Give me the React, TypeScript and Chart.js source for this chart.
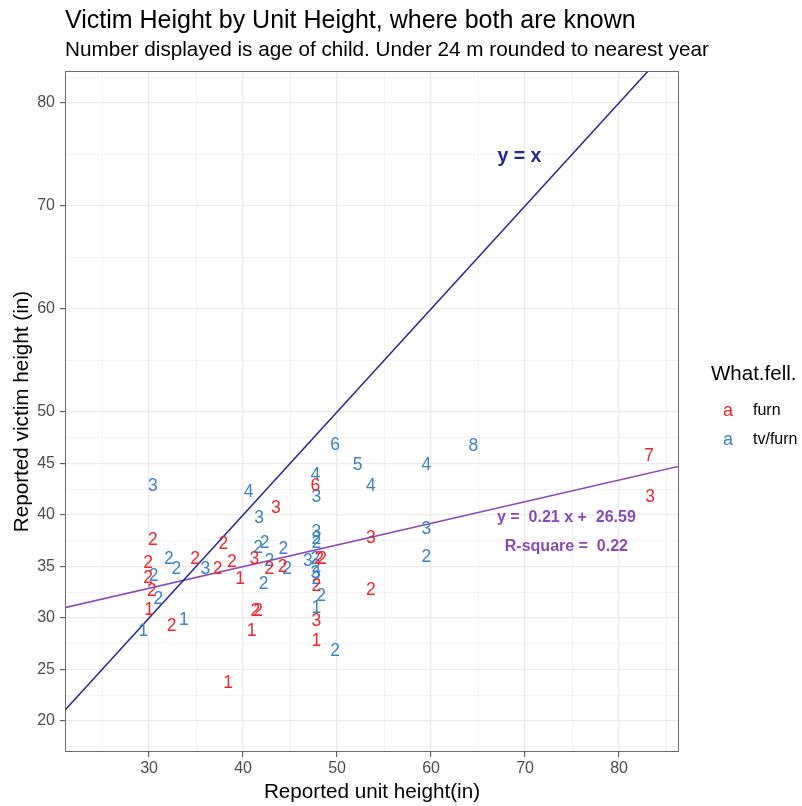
import React, { useEffect, useRef } from "react";
import { Chart, registerables } from "chart.js";
Chart.register(...registerables);

// ---- data ----
const furnX = [30.4, 29.9, 29.9, 30.3, 30.0, 32.4, 34.9, 37.3, 38.8, 37.9, 39.7, 41.2, 41.3, 41.6, 40.9, 43.5, 42.8, 44.2, 47.7, 48.1, 48.4, 47.8, 47.8, 47.8, 53.6, 53.6, 38.4, 83.2, 83.3];
const furnY = [37.7, 35.4, 34.0, 32.7, 30.9, 29.3, 35.8, 34.8, 35.5, 37.3, 33.9, 35.8, 30.8, 30.8, 28.8, 40.8, 34.8, 35.0, 42.9, 35.8, 35.8, 33.2, 29.8, 27.9, 37.9, 32.8, 23.8, 45.8, 41.8];
const furnAge = ["2", "2", "2", "2", "1", "2", "2", "2", "2", "2", "1", "3", "2", "2", "1", "3", "2", "2", "6", "2", "2", "2", "3", "1", "3", "2", "1", "7", "3"];

const tvX = [30.4, 30.5, 31.0, 29.4, 32.1, 32.9, 36.0, 33.7, 40.6, 41.7, 41.6, 42.3, 42.8, 42.2, 44.3, 44.7, 46.9, 47.7, 47.8, 47.8, 47.8, 47.8, 47.7, 47.8, 47.7, 47.8, 48.3, 47.8, 49.8, 49.8, 52.2, 53.6, 59.5, 59.5, 59.5, 64.5];
const tvY = [42.9, 34.2, 31.9, 28.8, 35.8, 34.8, 34.8, 29.9, 42.3, 39.8, 36.9, 37.4, 35.6, 33.4, 36.8, 34.8, 35.6, 44.0, 41.8, 38.4, 37.8, 37.4, 35.8, 35.0, 34.5, 33.9, 32.2, 31.1, 26.9, 46.9, 44.9, 42.9, 44.9, 38.7, 36.0, 46.8];
const tvAge = ["3", "2", "2", "1", "2", "2", "3", "1", "4", "3", "2", "2", "2", "2", "2", "2", "3", "4", "3", "3", "2", "2", "2", "2", "3", "2", "2", "1", "2", "6", "5", "4", "4", "3", "2", "8"];

const seriesNames = ["furn", "tv/furn"];
const xMajor = [30, 40, 50, 60, 70, 80];
const xMinor = [25, 35, 45, 55, 65, 75, 85];
const yMajor = [20, 25, 30, 35, 40, 45, 50, 60, 70, 80];
const yMinor = [17.5, 22.5, 27.5, 32.5, 37.5, 42.5, 47.5, 55, 65, 75, 82.5];
const slope = 0.21;
const intercept = 26.59;
const rSquare = 0.22;

const X_MIN = 21.06, X_MAX = 86.38, Y_MIN = 17.0, Y_MAX = 83.1;

const RED = "#f2252b";
const BLUE = "#3b83c2";
const NAVY = "#26269a";
const PURPLE = "#8a4ab3";
const FONT = "'Liberation Sans', Arial, sans-serif";

const textPlugin = {
  id: "textPoints",
  afterDatasetsDraw(chart: any) {
    const ctx = chart.ctx;
    const { left, top, right, bottom } = chart.chartArea;
    ctx.save();
    ctx.beginPath();
    ctx.rect(left, top, right - left, bottom - top);
    ctx.clip();
    ctx.textAlign = "center";
    ctx.textBaseline = "middle";
    ctx.font = `17.5px ${FONT}`;
    chart.data.datasets.forEach((ds: any, i: number) => {
      if (!ds.ages) return;
      const meta = chart.getDatasetMeta(i);
      ctx.fillStyle = ds.textColor;
      meta.data.forEach((el: any, j: number) => {
        ctx.fillText(ds.ages[j], el.x, el.y + 1);
      });
    });
    const xs = chart.scales.x, ys = chart.scales.y;
    ctx.font = `bold 19.5px ${FONT}`;
    ctx.fillStyle = NAVY;
    ctx.fillText("y = x", xs.getPixelForValue(69.4), ys.getPixelForValue(74.8));
    ctx.font = `bold 16px ${FONT}`;
    ctx.fillStyle = PURPLE;
    ctx.fillText(`y =  ${slope.toFixed(2)} x +  ${intercept.toFixed(2)}`, xs.getPixelForValue(74.4), ys.getPixelForValue(39.8));
    ctx.fillText(`R-square =  ${rSquare.toFixed(2)}`, xs.getPixelForValue(74.4), ys.getPixelForValue(36.9));
    ctx.restore();

    // panel border
    ctx.save();
    ctx.strokeStyle = "#6a6a6a";
    ctx.lineWidth = 1;
    ctx.strokeRect(left + 0.5, top + 0.5, right - left - 1, bottom - top - 1);
    ctx.restore();
  },
  afterDraw(chart: any) {
    const ctx = chart.ctx;
    const { left, top, right, bottom } = chart.chartArea;
    ctx.save();
    ctx.fillStyle = "#000";
    ctx.textBaseline = "alphabetic";
    ctx.textAlign = "left";
    ctx.font = `25px ${FONT}`;
    ctx.fillText("Victim Height by Unit Height, where both are known", 65, 28);
    ctx.font = `20.7px ${FONT}`;
    ctx.fillText("Number displayed is age of child. Under 24 m rounded to nearest year", 65, 56);

    ctx.textAlign = "center";
    ctx.textBaseline = "middle";
    ctx.font = `20.7px ${FONT}`;
    ctx.fillText("Reported unit height(in)", (left + right) / 2, 792);
    ctx.save();
    ctx.translate(22, (top + bottom) / 2);
    ctx.rotate(-Math.PI / 2);
    ctx.fillText("Reported victim height (in)", 0, 0);
    ctx.restore();

    // legend
    ctx.textAlign = "left";
    ctx.font = `20.5px ${FONT}`;
    ctx.fillText("What.fell.", 711, 374);
    const colors = [RED, BLUE];
    seriesNames.forEach((name, i) => {
      const y = 411 + i * 29;
      ctx.font = `18px ${FONT}`;
      ctx.fillStyle = colors[i];
      ctx.textAlign = "center";
      ctx.fillText("a", 728, y);
      ctx.fillStyle = "#000";
      ctx.textAlign = "left";
      ctx.font = `16px ${FONT}`;
      ctx.fillText(name, 753, y);
    });
    ctx.restore();
  },
};

function makeTicks(major: number[], minor: number[], min: number, max: number) {
  return [...major, ...minor]
    .filter((v) => v >= min && v <= max)
    .sort((a, b) => a - b)
    .map((v) => ({ value: v }));
}

export default function App() {
  const ref = useRef<HTMLCanvasElement | null>(null);
  useEffect(() => {
    if (!ref.current) return;
    const tvPts = tvX.map((x, i) => ({ x, y: tvY[i] }));
    const furnPts = furnX.map((x, i) => ({ x, y: furnY[i] }));
    const chart = new Chart(ref.current, {
      type: "scatter",
      data: {
        datasets: [
          {
            label: "y=x",
            data: [{ x: X_MIN - 5, y: X_MIN - 5 }, { x: X_MAX + 5, y: X_MAX + 5 }],
            showLine: true,
            borderColor: NAVY,
            borderWidth: 1.5,
            pointRadius: 0,
          } as any,
          {
            label: "fit",
            data: [X_MIN - 5, X_MAX + 5].map((x) => ({ x, y: slope * x + intercept })),
            showLine: true,
            borderColor: PURPLE,
            borderWidth: 1.5,
            pointRadius: 0,
          } as any,
          { label: seriesNames[1], data: tvPts, pointRadius: 0, ages: tvAge, textColor: BLUE } as any,
          { label: seriesNames[0], data: furnPts, pointRadius: 0, ages: furnAge, textColor: RED } as any,
        ],
      },
      options: {
        animation: false,
        responsive: false,
        layout: { padding: { left: 0, top: 71, right: 123, bottom: 0 } },
        plugins: { legend: { display: false }, tooltip: { enabled: false }, title: { display: false } },
        scales: {
          x: {
            type: "linear",
            min: X_MIN,
            max: X_MAX,
            afterFit: (s: any) => { s.height = 54; },
            afterBuildTicks: (s: any) => { s.ticks = makeTicks(xMajor, xMinor, X_MIN, X_MAX); },
            border: { display: false },
            grid: {
              color: "#ebebeb",
              lineWidth: (c: any) => (xMajor.includes(c.tick?.value) ? 1.3 : 0.6),
              tickColor: (c: any) => (xMajor.includes(c.tick?.value) ? "#444" : "rgba(0,0,0,0)"),
              tickLength: 5,
              tickWidth: 1,
            },
            ticks: {
              autoSkip: false,
              maxRotation: 0,
              padding: 2,
              color: "#4d4d4d",
              font: { family: FONT, size: 16 },
              callback: (v: any) => (xMajor.includes(v) ? String(v) : ""),
            },
          },
          y: {
            type: "linear",
            min: Y_MIN,
            max: Y_MAX,
            afterFit: (s: any) => { s.width = 65; },
            afterBuildTicks: (s: any) => { s.ticks = makeTicks(yMajor, yMinor, Y_MIN, Y_MAX); },
            border: { display: false },
            grid: {
              color: "#ebebeb",
              lineWidth: (c: any) => (yMajor.includes(c.tick?.value) ? 1.3 : 0.6),
              tickColor: (c: any) => (yMajor.includes(c.tick?.value) ? "#444" : "rgba(0,0,0,0)"),
              tickLength: 5,
              tickWidth: 1,
            },
            ticks: {
              autoSkip: false,
              padding: 5,
              color: "#4d4d4d",
              font: { family: FONT, size: 16 },
              callback: (v: any) => (yMajor.includes(v) ? String(v) : ""),
            },
          },
        },
      },
      plugins: [textPlugin],
    });
    return () => chart.destroy();
  }, []);
  return (
    <div style={{ position: "absolute", left: 0, top: 0, width: 802, height: 806, background: "#fff" }}>
      <canvas ref={ref} width={802} height={806} style={{ width: 802, height: 806, display: "block" }} />
    </div>
  );
}
